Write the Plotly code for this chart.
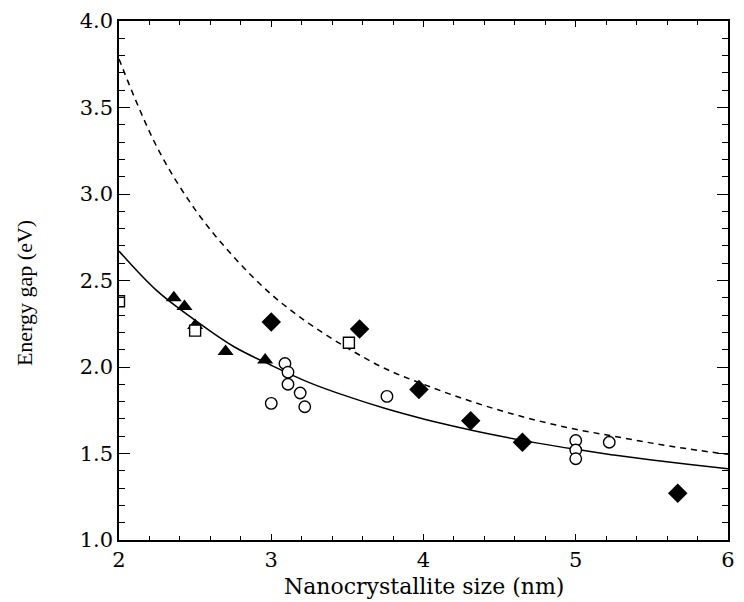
import plotly.graph_objects as go

# Theory curves
curve_x = [2.0, 2.25, 2.5, 2.75, 3.0, 3.25, 3.5, 3.75, 4.0, 4.25, 4.5, 4.75, 5.0, 5.25, 5.5, 5.75, 6.0]
solid_y = [2.67, 2.44, 2.27, 2.12, 2.01, 1.91, 1.83, 1.76, 1.70, 1.648, 1.601, 1.560, 1.524, 1.491, 1.462, 1.436, 1.412]
dashed_y = [3.78, 3.27, 2.91, 2.64, 2.42, 2.25, 2.11, 1.99, 1.90, 1.82, 1.75, 1.69, 1.64, 1.60, 1.56, 1.525, 1.495]

# Experimental points
square_x = [2.0, 2.50, 3.51]
square_y = [2.38, 2.21, 2.14]
triangle_x = [2.36, 2.43, 2.50, 2.70, 2.96]
triangle_y = [2.40, 2.35, 2.24, 2.09, 2.04]
diamond_x = [3.0, 3.58, 3.97, 4.31, 4.65, 5.67]
diamond_y = [2.26, 2.22, 1.87, 1.69, 1.565, 1.27]
circle_x = [3.0, 3.09, 3.11, 3.11, 3.19, 3.22, 3.76, 5.0, 5.0, 5.0, 5.22]
circle_y = [1.79, 2.02, 1.97, 1.90, 1.85, 1.77, 1.83, 1.575, 1.52, 1.47, 1.565]

x_ticks = [2, 3, 4, 5, 6]
y_ticks = [1.0, 1.5, 2.0, 2.5, 3.0, 3.5, 4.0]

fig = go.Figure()
fig.add_trace(go.Scatter(x=curve_x, y=dashed_y, mode="lines", line_shape="spline",
                         line=dict(color="black", width=1.5, dash="6px,5px"), showlegend=False))
fig.add_trace(go.Scatter(x=curve_x, y=solid_y, mode="lines", line_shape="spline",
                         line=dict(color="black", width=1.5), showlegend=False))
fig.add_trace(go.Scatter(x=triangle_x, y=triangle_y, mode="markers",
                         marker=dict(symbol="triangle-up", size=14, color="black"), showlegend=False))
fig.add_trace(go.Scatter(x=diamond_x, y=diamond_y, mode="markers",
                         marker=dict(symbol="diamond", size=15, color="black"), showlegend=False))
fig.add_trace(go.Scatter(x=square_x, y=square_y, mode="markers",
                         marker=dict(symbol="square", size=11, color="white",
                                     line=dict(color="black", width=1.4)), showlegend=False))
fig.add_trace(go.Scatter(x=circle_x, y=circle_y, mode="markers",
                         marker=dict(symbol="circle", size=11.5, color="white",
                                     line=dict(color="black", width=1.4)), showlegend=False))

tickfont = dict(family="DejaVu Serif", size=21, color="black")
fig.update_xaxes(range=[2, 6], tickvals=x_ticks, ticktext=[str(v) for v in x_ticks],
                 ticks="inside", ticklen=6, tickwidth=1.2, tickcolor="black",
                 minor=dict(dtick=0.2, ticks="inside", ticklen=4, tickcolor="black", tickwidth=1),
                 showline=True, linecolor="black", linewidth=1.5, mirror="ticks",
                 showgrid=False, zeroline=False, tickfont=tickfont)
fig.update_yaxes(range=[1.0, 4.0], tickvals=y_ticks, ticktext=[f"{v:.1f}" for v in y_ticks],
                 ticks="inside", ticklen=11, tickwidth=1.2, tickcolor="black",
                 minor=dict(dtick=0.1, ticks="inside", ticklen=6, tickcolor="black", tickwidth=1),
                 showline=True, linecolor="black", linewidth=1.5, mirror="ticks",
                 showgrid=False, zeroline=False, tickfont=tickfont)

fig.update_layout(
    width=744, height=602,
    margin=dict(l=119, r=9, t=20, b=62),
    paper_bgcolor="white", plot_bgcolor="white",
    annotations=[
        dict(text="Nanocrystallite size (nm)", xref="paper", yref="paper",
             x=0.5, y=-0.089, xanchor="center", yanchor="middle", showarrow=False,
             font=dict(family="DejaVu Serif", size=22, color="black")),
        dict(text="Energy gap (eV)", xref="paper", yref="paper", textangle=-90,
             x=-0.155, y=0.475, xanchor="center", yanchor="middle", showarrow=False,
             font=dict(family="Liberation Serif", size=22, color="black")),
    ],
)
fig.write_html("out.html")
